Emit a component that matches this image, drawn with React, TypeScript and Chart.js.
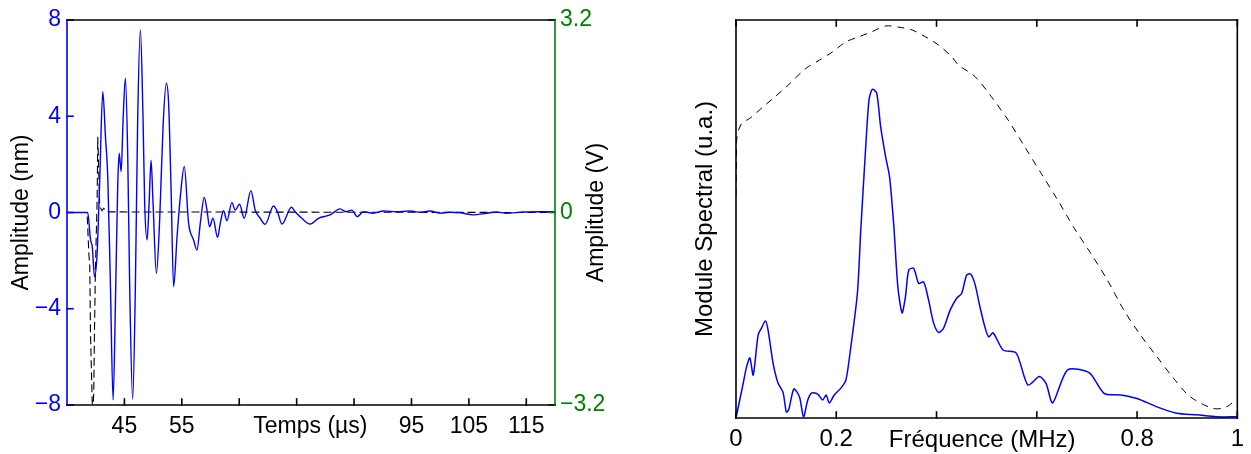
import React, { useEffect, useRef } from 'react';
import { Chart, registerables } from 'chart.js';

Chart.register(...registerables);

// ---------- Left panel: time signal ----------
const timeUs = [35, 38.6, 39.1, 39.4, 39.8, 40.25, 40.7, 41.23, 41.7, 42.1, 42.57, 43.03, 43.49, 43.83, 44.08, 44.43, 44.77, 45.17, 45.57, 45.92, 46.44, 46.91, 47.31, 47.78, 48.25, 48.53, 48.95, 49.3, 49.64, 49.99, 50.57, 51.14, 51.73, 52.3, 52.7, 53.12, 53.57, 54.17, 54.74, 55.43, 56.18, 57.05, 57.64, 58.22, 58.91, 59.38, 59.83, 60.43, 61.23, 61.7, 62.27, 62.86, 63.73, 64.3, 65.05, 65.87, 67.03, 67.78, 68.65, 69.52, 70.97, 71.66, 72.43, 74.1, 74.74, 75.9, 77.35, 78.79, 80.83, 82.57, 83.61, 84.6, 85.57, 86.62, 88.36, 90.1, 92.43, 94.74, 96.48, 98.22, 99.96, 101.7, 103.43, 105.75, 108.08, 109.82, 111.56, 114.44, 117.35, 120];
const amplitudeNm = [0, 0, -1.14, -1.42, -2.67, -1.68, 1.35, 5.02, 3.15, 1.49, -3.08, -7.79, -3.08, 1.07, 2.46, 1.7, 3.84, 5.58, 2.46, -3.08, -7.76, -3.08, 3.84, 7.59, 3.84, 0.38, -1.14, 0.38, 2.17, 0.38, -2.53, -0.31, 3.57, 5.37, 4.54, 1.07, -3.08, -1.01, 0.66, 1.91, -0.44, -1.14, -1.56, -0.44, 0.63, 0.1, -0.59, -0.24, -1.03, -0.44, 0.07, -0.34, 0.41, 0.1, 0.34, -0.24, 0.91, 0.1, -0.24, -0.49, 0.27, 0.03, -0.48, 0.22, 0.03, -0.24, -0.48, -0.24, -0.1, 0.15, 0.03, 0.1, -0.17, 0.03, -0.03, 0.06, 0.03, 0.06, 0.01, 0.06, -0.03, 0.01, -0.01, -0.1, -0.03, 0.02, -0.03, 0.02, 0.03, 0.03];
const pulseTimeUs = [35, 38.5, 38.8, 38.97, 39.09, 39.38, 39.5, 39.66, 39.78, 39.96, 40.25, 40.36, 40.7, 41.12, 41.4, 42.0, 120];
const pulseVolt = [0, 0, -0.67, -0.9, -2.0, -3.12, -3.3, -3.0, -2.0, -0.9, 0.21, 1.26, 0.1, 0.03, 0.07, 0.01, 0];
const timeTicks = [45, 55, 65, 75, 85, 95, 105, 115];
const timeTickLabels = ['45', '55', '', '', '', '95', '105', '115'];
const nmTicks = [-8, -4, 0, 4, 8];
const voltTicks = [-3.2, 0, 3.2];

// ---------- Right panel: spectra ----------
const freqSample = [0, 0.0145, 0.0212, 0.0277, 0.0343, 0.0442, 0.0509, 0.0588, 0.064, 0.0739, 0.0838, 0.0937, 0.1004, 0.105, 0.1154, 0.1267, 0.1347, 0.1432, 0.1511, 0.163, 0.1729, 0.1796, 0.1861, 0.196, 0.2093, 0.2192, 0.2291, 0.2422, 0.2489, 0.2588, 0.2653, 0.2719, 0.2806, 0.2885, 0.2984, 0.3063, 0.3149, 0.3228, 0.3313, 0.338, 0.3446, 0.3545, 0.3644, 0.3743, 0.3842, 0.3941, 0.404, 0.4139, 0.4271, 0.4402, 0.4501, 0.46, 0.4679, 0.4766, 0.4865, 0.4964, 0.504, 0.5129, 0.5327, 0.559, 0.5822, 0.6053, 0.6184, 0.6317, 0.6614, 0.7044, 0.7341, 0.7669, 0.8, 0.8396, 0.8792, 0.9188, 0.9584, 1.0];
const specSample = [0, 0.088, 0.129, 0.151, 0.108, 0.209, 0.226, 0.244, 0.221, 0.138, 0.088, 0.065, 0.015, 0.02, 0.073, 0.053, 0.003, 0.045, 0.063, 0.06, 0.045, 0.058, 0.038, 0.058, 0.075, 0.095, 0.179, 0.314, 0.472, 0.682, 0.799, 0.826, 0.817, 0.732, 0.657, 0.606, 0.481, 0.33, 0.264, 0.305, 0.372, 0.376, 0.338, 0.342, 0.296, 0.239, 0.215, 0.225, 0.271, 0.301, 0.313, 0.359, 0.362, 0.337, 0.28, 0.229, 0.204, 0.214, 0.171, 0.163, 0.083, 0.104, 0.087, 0.038, 0.121, 0.114, 0.062, 0.058, 0.049, 0.028, 0.012, 0.008, 0.003, 0.003];
const freqRef = [0, 0.001, 0.002, 0.0113, 0.0277, 0.0541, 0.0739, 0.1004, 0.14, 0.1663, 0.1927, 0.2192, 0.2455, 0.2719, 0.2984, 0.3248, 0.3511, 0.3776, 0.404, 0.4303, 0.4436, 0.4766, 0.5095, 0.5426, 0.5756, 0.6085, 0.6416, 0.6747, 0.7075, 0.7406, 0.7737, 0.8065, 0.8396, 0.8727, 0.9055, 0.9519, 0.9782, 1.0];
const specRef = [0.56, 0.648, 0.707, 0.74, 0.753, 0.782, 0.803, 0.832, 0.879, 0.899, 0.92, 0.945, 0.958, 0.971, 0.985, 0.982, 0.975, 0.958, 0.937, 0.908, 0.887, 0.858, 0.807, 0.749, 0.682, 0.615, 0.548, 0.477, 0.414, 0.347, 0.271, 0.209, 0.154, 0.1, 0.054, 0.024, 0.028, 0.049];
const freqTicks = [0, 0.2, 0.4, 0.6, 0.8, 1];
const freqTickLabels = ['0', '0.2', '', '', '0.8', '1'];

const FONT = 'Liberation Sans, Arial, sans-serif';
const FS_LEFT = 23;
const FS_RIGHT = 24;
const BLUE = '#0000ff';
const GREEN = '#008000';

const fmt = (v: number) => (v < 0 ? '\u2212' + String(Math.abs(v)) : String(v));

type Side = 'top' | 'bottom' | 'left' | 'right';
interface TickSpec { scaleId: string; side: Side; values: number[]; color: string; }
interface TitleSpec { text: string; x: (a: any, c: any) => number; y: (a: any, c: any) => number; rot: boolean; }

function framePlugin(sides: Record<Side, string>, ticks: TickSpec[], titles: TitleSpec[], fs: number) {
  return {
    id: 'frameAndTitles',
    afterDatasetsDraw(chart: any) {
      const { ctx, chartArea: a } = chart;
      ctx.save();
      ctx.lineWidth = 1.6;
      ctx.lineCap = 'square';
      const line = (x1: number, y1: number, x2: number, y2: number, c: string) => {
        ctx.strokeStyle = c;
        ctx.beginPath();
        ctx.moveTo(x1, y1);
        ctx.lineTo(x2, y2);
        ctx.stroke();
      };
      const L = 6;
      ticks.forEach((t) => {
        const s = chart.scales[t.scaleId];
        t.values.forEach((v) => {
          const p = s.getPixelForValue(v);
          if (t.side === 'bottom') line(p, a.bottom, p, a.bottom - L, t.color);
          if (t.side === 'top') line(p, a.top, p, a.top + L, t.color);
          if (t.side === 'left') line(a.left, p, a.left + L, p, t.color);
          if (t.side === 'right') line(a.right, p, a.right - L, p, t.color);
        });
      });
      line(a.left, a.top, a.right, a.top, sides.top);
      line(a.left, a.bottom, a.right, a.bottom, sides.bottom);
      line(a.left, a.top, a.left, a.bottom, sides.left);
      line(a.right, a.top, a.right, a.bottom, sides.right);

      ctx.fillStyle = '#000';
      ctx.font = `${fs}px ${FONT}`;
      titles.forEach((t) => {
        const x = t.x(a, chart);
        const y = t.y(a, chart);
        ctx.save();
        ctx.translate(x, y);
        if (t.rot) {
          ctx.rotate(-Math.PI / 2);
          ctx.textAlign = 'center';
          ctx.textBaseline = 'middle';
        } else {
          ctx.textAlign = 'center';
          ctx.textBaseline = 'alphabetic';
        }
        ctx.fillText(t.text, 0, 0);
        ctx.restore();
      });
      ctx.restore();
    },
  };
}

function fixedTicks(values: number[]) {
  return (scale: any) => {
    scale.ticks = values.map((v) => ({ value: v }));
  };
}

function leftConfig(): any {
  return {
    type: 'line',
    data: {
      datasets: [
        {
          data: timeUs.map((t, i) => ({ x: t, y: amplitudeNm[i] })),
          yAxisID: 'y',
          borderColor: BLUE,
          borderWidth: 1.4,
          pointRadius: 0,
          cubicInterpolationMode: 'monotone',
        },
        {
          data: pulseTimeUs.map((t, i) => ({ x: t, y: pulseVolt[i] })),
          yAxisID: 'y2',
          borderColor: '#000',
          borderWidth: 1.1,
          borderDash: [8, 4],
          pointRadius: 0,
          tension: 0,
        },
      ],
    },
    options: {
      responsive: false,
      animation: false,
      devicePixelRatio: 1,
      layout: { padding: { top: 20, left: 0, right: 0, bottom: 0 } },
      plugins: { legend: { display: false }, tooltip: { enabled: false } },
      scales: {
        x: {
          type: 'linear',
          position: 'bottom',
          min: 35,
          max: 120,
          afterBuildTicks: fixedTicks(timeTicks),
          afterFit: (s: any) => { s.height = 49; },
          grid: { display: false, drawTicks: false },
          border: { display: false },
          ticks: {
            autoSkip: false,
            maxRotation: 0,
            color: '#000',
            font: { family: FONT, size: FS_LEFT },
            padding: 8,
            callback: (_v: any, i: number) => timeTickLabels[i],
          },
        },
        y: {
          type: 'linear',
          position: 'left',
          min: -8,
          max: 8,
          afterBuildTicks: fixedTicks(nmTicks),
          afterFit: (s: any) => { s.width = 67; },
          grid: { display: false, drawTicks: false },
          border: { display: false },
          ticks: {
            color: BLUE,
            font: { family: FONT, size: FS_LEFT },
            padding: 6,
            callback: (v: any) => fmt(v),
          },
        },
        y2: {
          type: 'linear',
          position: 'right',
          min: -3.2,
          max: 3.2,
          afterBuildTicks: fixedTicks(voltTicks),
          afterFit: (s: any) => { s.width = 65; },
          grid: { display: false, drawTicks: false },
          border: { display: false },
          ticks: {
            color: GREEN,
            font: { family: FONT, size: FS_LEFT },
            padding: 5,
            callback: (v: any) => fmt(v),
          },
        },
      },
    },
    plugins: [
      framePlugin(
        { top: '#000', bottom: '#000', left: BLUE, right: GREEN },
        [
          { scaleId: 'x', side: 'bottom', values: timeTicks, color: '#000' },
          { scaleId: 'y', side: 'left', values: nmTicks, color: BLUE },
          { scaleId: 'y2', side: 'right', values: voltTicks, color: GREEN },
        ],
        [
          { text: 'Amplitude (nm)', x: () => 22, y: (a) => (a.top + a.bottom) / 2, rot: true },
          { text: 'Amplitude (V)', x: () => 597, y: (a) => (a.top + a.bottom) / 2, rot: true },
          { text: 'Temps (\u00b5s)', x: (_a, c) => c.scales.x.getPixelForValue(77.4), y: (a) => a.bottom + 28, rot: false },
        ],
        FS_LEFT
      ),
    ],
  };
}

function rightConfig(): any {
  return {
    type: 'line',
    data: {
      datasets: [
        {
          data: freqSample.map((f, i) => ({ x: f, y: specSample[i] })),
          borderColor: BLUE,
          borderWidth: 1.5,
          pointRadius: 0,
          tension: 0.25,
        },
        {
          data: freqRef.map((f, i) => ({ x: f, y: specRef[i] })),
          borderColor: '#000',
          borderWidth: 1,
          borderDash: [7, 6],
          pointRadius: 0,
          tension: 0.3,
        },
      ],
    },
    options: {
      responsive: false,
      animation: false,
      devicePixelRatio: 1,
      layout: { padding: { top: 20, left: 0, right: 10, bottom: 0 } },
      plugins: { legend: { display: false }, tooltip: { enabled: false } },
      scales: {
        x: {
          type: 'linear',
          position: 'bottom',
          min: 0,
          max: 1,
          afterBuildTicks: fixedTicks(freqTicks),
          afterFit: (s: any) => { s.height = 36; },
          grid: { display: false, drawTicks: false },
          border: { display: false },
          ticks: {
            autoSkip: false,
            maxRotation: 0,
            color: '#000',
            font: { family: FONT, size: FS_RIGHT },
            padding: 7,
            callback: (_v: any, i: number) => freqTickLabels[i],
          },
        },
        y: {
          type: 'linear',
          position: 'left',
          min: 0,
          max: 1,
          afterFit: (s: any) => { s.width = 116; },
          grid: { display: false, drawTicks: false },
          border: { display: false },
          ticks: { display: false },
        },
      },
    },
    plugins: [
      framePlugin(
        { top: '#000', bottom: '#000', left: '#000', right: '#000' },
        [
          { scaleId: 'x', side: 'bottom', values: freqTicks, color: '#000' },
          { scaleId: 'x', side: 'top', values: freqTicks, color: '#000' },
        ],
        [
          { text: 'Module Spectral (u.a.)', x: () => 85, y: (a) => (a.top + a.bottom) / 2, rot: true },
          { text: 'Fr\u00e9quence (MHz)', x: (_a, c) => c.scales.x.getPixelForValue(0.491), y: (a) => a.bottom + 29, rot: false },
        ],
        FS_RIGHT
      ),
    ],
  };
}

export default function App() {
  const leftRef = useRef<HTMLCanvasElement>(null);
  const rightRef = useRef<HTMLCanvasElement>(null);

  useEffect(() => {
    const c1 = new Chart(leftRef.current as HTMLCanvasElement, leftConfig());
    const c2 = new Chart(rightRef.current as HTMLCanvasElement, rightConfig());
    return () => {
      c1.destroy();
      c2.destroy();
    };
  }, []);

  return (
    <div style={{ position: 'absolute', left: 0, top: 0, width: 1251, height: 454, background: '#fff', overflow: 'hidden' }}>
      <canvas ref={leftRef} width={620} height={454} style={{ position: 'absolute', left: 0, top: 0, width: 620, height: 454 }} />
      <canvas ref={rightRef} width={631} height={454} style={{ position: 'absolute', left: 620, top: 0, width: 631, height: 454 }} />
    </div>
  );
}
